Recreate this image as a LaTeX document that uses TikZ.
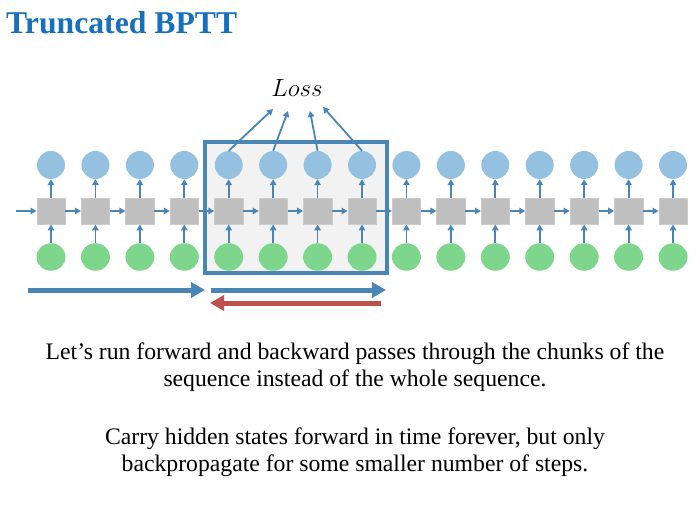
\documentclass[tikz,border=0pt]{standalone}
\usepackage{fontspec}
\setmainfont{Liberation Serif}
\usetikzlibrary{arrows.meta,shapes.geometric}
\definecolor{arrblue}{HTML}{4A86B5}
\definecolor{outblue}{HTML}{93C1DF}
\definecolor{ingreen}{HTML}{7DD68B}
\definecolor{cellgray}{HTML}{BFBFBF}
\definecolor{titleblue}{HTML}{1570C0}
\definecolor{backred}{HTML}{C0504D}
\definecolor{boxfill}{HTML}{F2F2F2}
\tikzset{
  outnode/.style={circle,fill=outblue,minimum size=28pt,inner sep=0pt},
  innode/.style={ellipse,fill=ingreen,minimum width=29pt,minimum height=27.5pt,inner sep=0pt},
  cellnode/.style={rectangle,fill=cellgray,draw=cellgray!80!white,minimum width=28.5pt,minimum height=26.5pt,inner sep=0pt},
  smallarr/.style={draw=arrblue,line width=1.8pt,-{Triangle[length=6pt,width=6.5pt]}},
  bigarr/.style={line width=5pt,-{Triangle[length=14pt,width=15pt]}},
  bodytext/.style={align=center,font=\fontsize{23.7}{27}\selectfont,inner sep=0pt},
}
\begin{document}
\begin{tikzpicture}[x=1pt,y=-1pt]
\useasboundingbox (0,0) rectangle (700,526);
% chunk box
\node[draw=arrblue,line width=3.5pt,fill=boxfill,minimum width=182pt,minimum height=131pt,inner sep=0pt] (chunk) at (296,207.5) {};
\coordinate (start) at (16,211);
\foreach \i in {0,...,14}{
  \pgfmathsetmacro{\xx}{51+44.43*\i}
  \node[outnode] (h\i) at (\xx,165) {};
  \node[cellnode] (c\i) at (\xx,211) {};
  \node[innode] (x\i) at (\xx,257) {};
  \draw[smallarr] (x\i.north) -- (c\i.south);
  \draw[smallarr] (c\i.north) -- (h\i.south);
}
\draw[smallarr] (start) -- (c0.west);
\foreach \i [evaluate=\i as \j using int(\i+1)] in {0,...,13}{
  \draw[smallarr] (c\i.east) -- (c\j.west);
}
% loss
\node[font=\fontsize{23}{27}\selectfont] (loss) at (297,88) {$Loss$};
\coordinate (l1) at (273,109);
\coordinate (l2) at (288,111);
\coordinate (l3) at (310,111);
\coordinate (l4) at (323,107);
\draw[smallarr] (h4.north) -- (l1);
\draw[smallarr] (h5.north) -- (l2);
\draw[smallarr] (h6.north) -- (l3);
\draw[smallarr] (h7.north) -- (l4);
% big arrows
\coordinate (a1s) at (28,290);
\coordinate (a1e) at (205,290);
\coordinate (a2s) at (211,290);
\coordinate (a2e) at (386,290);
\coordinate (a3s) at (381,303);
\coordinate (a3e) at (210,303);
\draw[bigarr,draw=arrblue,fill=arrblue] (a1s) -- (a1e);
\draw[bigarr,draw=arrblue,fill=arrblue] (a2s) -- (a2e);
\draw[bigarr,draw=backred,fill=backred] (a3s) -- (a3e);
% texts
\node[anchor=west,font=\fontsize{31.7}{36}\selectfont\bfseries,text=titleblue,inner sep=0pt] (title) at (6,23) {Truncated BPTT};
\node[bodytext] (t1) at (355,367) {Let’s run forward and backward passes through the chunks of the\\sequence instead of the whole sequence.};
\node[bodytext] (t2) at (355,452) {Carry hidden states forward in time forever, but only\\backpropagate for some smaller number of steps.};
\end{tikzpicture}
\end{document}
